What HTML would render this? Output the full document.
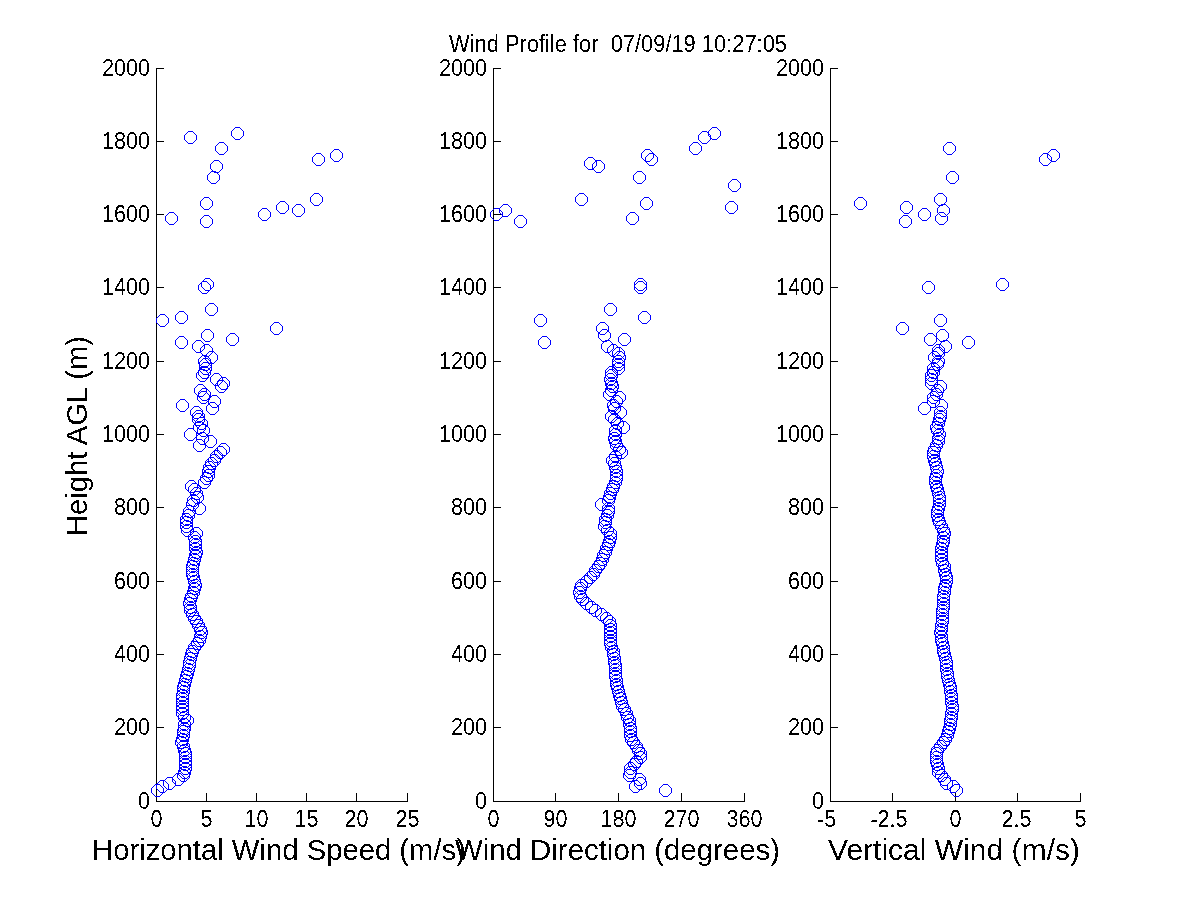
<!DOCTYPE html><html><head><meta charset="utf-8"><style>html,body{margin:0;padding:0;background:#fff;width:1200px;height:900px;overflow:hidden}svg{display:block}text{font-family:"Liberation Sans",Arial,sans-serif;fill:#000}</style></head><body>
<svg width="1200" height="900" viewBox="0 0 1200 900">
<defs><filter id="cr" x="0" y="0" width="1200" height="900" filterUnits="userSpaceOnUse" color-interpolation-filters="sRGB"><feComponentTransfer><feFuncA type="discrete" tableValues="0 1"/></feComponentTransfer></filter><path id="m" d="M-2,-6h5v1h-5zM-2,6h5v1h-5zM-3,-5h1v1h-1zM3,-5h1v1h-1zM-4,-4h1v1h-1zM4,-4h1v1h-1zM-5,-3h1v1h-1zM5,-3h1v1h-1zM-6,-2h1v5h-1zM6,-2h1v5h-1zM-5,3h1v1h-1zM5,3h1v1h-1zM-4,4h1v1h-1zM4,4h1v1h-1zM-3,5h1v1h-1zM3,5h1v1h-1z"/></defs>
<path shape-rendering="crispEdges" fill="#000" d="M156,801h252v1h-252zM156,68h1v733h-1zM156,793h1v8h-1zM206,793h1v8h-1zM256,793h1v8h-1zM306,793h1v8h-1zM356,793h1v8h-1zM407,793h1v8h-1zM156,801h8v1h-8zM156,727h8v1h-8zM156,654h8v1h-8zM156,581h8v1h-8zM156,507h8v1h-8zM156,434h8v1h-8zM156,361h8v1h-8zM156,287h8v1h-8zM156,214h8v1h-8zM156,141h8v1h-8zM156,68h8v1h-8zM493,801h252v1h-252zM493,68h1v733h-1zM493,793h1v8h-1zM555,793h1v8h-1zM618,793h1v8h-1zM681,793h1v8h-1zM744,793h1v8h-1zM493,801h8v1h-8zM493,727h8v1h-8zM493,654h8v1h-8zM493,581h8v1h-8zM493,507h8v1h-8zM493,434h8v1h-8zM493,361h8v1h-8zM493,287h8v1h-8zM493,214h8v1h-8zM493,141h8v1h-8zM493,68h8v1h-8zM830,801h251v1h-251zM830,68h1v733h-1zM830,793h1v8h-1zM892,793h1v8h-1zM955,793h1v8h-1zM1017,793h1v8h-1zM1080,793h1v8h-1zM830,801h8v1h-8zM830,727h8v1h-8zM830,654h8v1h-8zM830,581h8v1h-8zM830,507h8v1h-8zM830,434h8v1h-8zM830,361h8v1h-8zM830,287h8v1h-8zM830,214h8v1h-8zM830,141h8v1h-8zM830,68h8v1h-8z"/>
<g fill="#00f" shape-rendering="crispEdges"><use href="#m" x="237" y="133"/><use href="#m" x="190" y="137"/><use href="#m" x="221" y="148"/><use href="#m" x="336" y="155"/><use href="#m" x="318" y="159"/><use href="#m" x="216" y="166"/><use href="#m" x="213" y="177"/><use href="#m" x="316" y="199"/><use href="#m" x="206" y="203"/><use href="#m" x="282" y="207"/><use href="#m" x="298" y="210"/><use href="#m" x="264" y="214"/><use href="#m" x="171" y="218"/><use href="#m" x="206" y="221"/><use href="#m" x="207" y="284"/><use href="#m" x="204" y="287"/><use href="#m" x="211" y="309"/><use href="#m" x="181" y="317"/><use href="#m" x="162" y="320"/><use href="#m" x="276" y="328"/><use href="#m" x="207" y="335"/><use href="#m" x="232" y="339"/><use href="#m" x="181" y="342"/><use href="#m" x="198" y="346"/><use href="#m" x="206" y="350"/><use href="#m" x="211" y="357"/><use href="#m" x="204" y="361"/><use href="#m" x="205" y="364"/><use href="#m" x="205" y="368"/><use href="#m" x="204" y="372"/><use href="#m" x="202" y="375"/><use href="#m" x="216" y="379"/><use href="#m" x="223" y="383"/><use href="#m" x="221" y="386"/><use href="#m" x="200" y="390"/><use href="#m" x="204" y="394"/><use href="#m" x="203" y="397"/><use href="#m" x="214" y="401"/><use href="#m" x="182" y="405"/><use href="#m" x="212" y="408"/><use href="#m" x="196" y="412"/><use href="#m" x="198" y="416"/><use href="#m" x="198" y="419"/><use href="#m" x="201" y="423"/><use href="#m" x="199" y="427"/><use href="#m" x="203" y="430"/><use href="#m" x="190" y="434"/><use href="#m" x="202" y="438"/><use href="#m" x="210" y="441"/><use href="#m" x="199" y="445"/><use href="#m" x="223" y="449"/><use href="#m" x="220" y="452"/><use href="#m" x="216" y="456"/><use href="#m" x="214" y="460"/><use href="#m" x="211" y="463"/><use href="#m" x="209" y="467"/><use href="#m" x="208" y="471"/><use href="#m" x="208" y="475"/><use href="#m" x="206" y="478"/><use href="#m" x="204" y="482"/><use href="#m" x="191" y="486"/><use href="#m" x="194" y="489"/><use href="#m" x="196" y="493"/><use href="#m" x="197" y="497"/><use href="#m" x="193" y="500"/><use href="#m" x="192" y="504"/><use href="#m" x="199" y="508"/><use href="#m" x="189" y="511"/><use href="#m" x="188" y="515"/><use href="#m" x="186" y="519"/><use href="#m" x="186" y="522"/><use href="#m" x="186" y="526"/><use href="#m" x="187" y="530"/><use href="#m" x="196" y="533"/><use href="#m" x="184" y="772"/><use href="#m" x="185" y="768"/><use href="#m" x="185" y="764"/><use href="#m" x="185" y="761"/><use href="#m" x="185" y="757"/><use href="#m" x="185" y="753"/><use href="#m" x="184" y="750"/><use href="#m" x="183" y="746"/><use href="#m" x="181" y="742"/><use href="#m" x="182" y="739"/><use href="#m" x="183" y="735"/><use href="#m" x="183" y="731"/><use href="#m" x="184" y="728"/><use href="#m" x="184" y="724"/><use href="#m" x="187" y="720"/><use href="#m" x="184" y="717"/><use href="#m" x="182" y="713"/><use href="#m" x="182" y="709"/><use href="#m" x="182" y="706"/><use href="#m" x="182" y="702"/><use href="#m" x="182" y="698"/><use href="#m" x="182" y="695"/><use href="#m" x="183" y="691"/><use href="#m" x="183" y="687"/><use href="#m" x="184" y="684"/><use href="#m" x="185" y="680"/><use href="#m" x="186" y="676"/><use href="#m" x="187" y="673"/><use href="#m" x="188" y="669"/><use href="#m" x="189" y="665"/><use href="#m" x="189" y="662"/><use href="#m" x="190" y="658"/><use href="#m" x="191" y="654"/><use href="#m" x="192" y="651"/><use href="#m" x="194" y="647"/><use href="#m" x="197" y="643"/><use href="#m" x="199" y="640"/><use href="#m" x="200" y="636"/><use href="#m" x="201" y="632"/><use href="#m" x="200" y="629"/><use href="#m" x="198" y="625"/><use href="#m" x="196" y="621"/><use href="#m" x="194" y="618"/><use href="#m" x="192" y="614"/><use href="#m" x="190" y="610"/><use href="#m" x="190" y="607"/><use href="#m" x="189" y="603"/><use href="#m" x="190" y="599"/><use href="#m" x="191" y="596"/><use href="#m" x="193" y="592"/><use href="#m" x="194" y="588"/><use href="#m" x="195" y="585"/><use href="#m" x="194" y="581"/><use href="#m" x="193" y="577"/><use href="#m" x="192" y="574"/><use href="#m" x="192" y="570"/><use href="#m" x="192" y="566"/><use href="#m" x="193" y="563"/><use href="#m" x="194" y="559"/><use href="#m" x="195" y="555"/><use href="#m" x="196" y="552"/><use href="#m" x="195" y="548"/><use href="#m" x="195" y="544"/><use href="#m" x="195" y="541"/><use href="#m" x="194" y="537"/><use href="#m" x="157" y="790"/><use href="#m" x="162" y="786"/><use href="#m" x="169" y="783"/><use href="#m" x="178" y="779"/><use href="#m" x="183" y="775"/><use href="#m" x="714" y="133"/><use href="#m" x="704" y="137"/><use href="#m" x="695" y="148"/><use href="#m" x="647" y="155"/><use href="#m" x="651" y="159"/><use href="#m" x="590" y="163"/><use href="#m" x="598" y="166"/><use href="#m" x="639" y="177"/><use href="#m" x="734" y="185"/><use href="#m" x="581" y="199"/><use href="#m" x="646" y="203"/><use href="#m" x="731" y="207"/><use href="#m" x="505" y="210"/><use href="#m" x="496" y="214"/><use href="#m" x="632" y="218"/><use href="#m" x="520" y="221"/><use href="#m" x="640" y="284"/><use href="#m" x="640" y="287"/><use href="#m" x="610" y="309"/><use href="#m" x="644" y="317"/><use href="#m" x="540" y="320"/><use href="#m" x="602" y="328"/><use href="#m" x="604" y="335"/><use href="#m" x="624" y="339"/><use href="#m" x="544" y="342"/><use href="#m" x="607" y="346"/><use href="#m" x="613" y="350"/><use href="#m" x="618" y="353"/><use href="#m" x="619" y="357"/><use href="#m" x="618" y="361"/><use href="#m" x="618" y="364"/><use href="#m" x="618" y="368"/><use href="#m" x="611" y="372"/><use href="#m" x="611" y="375"/><use href="#m" x="610" y="379"/><use href="#m" x="611" y="383"/><use href="#m" x="612" y="386"/><use href="#m" x="611" y="390"/><use href="#m" x="609" y="394"/><use href="#m" x="619" y="397"/><use href="#m" x="616" y="401"/><use href="#m" x="613" y="405"/><use href="#m" x="614" y="408"/><use href="#m" x="620" y="412"/><use href="#m" x="611" y="416"/><use href="#m" x="614" y="419"/><use href="#m" x="617" y="423"/><use href="#m" x="623" y="427"/><use href="#m" x="615" y="430"/><use href="#m" x="615" y="434"/><use href="#m" x="614" y="438"/><use href="#m" x="615" y="441"/><use href="#m" x="616" y="445"/><use href="#m" x="619" y="449"/><use href="#m" x="621" y="452"/><use href="#m" x="615" y="456"/><use href="#m" x="612" y="460"/><use href="#m" x="614" y="463"/><use href="#m" x="615" y="467"/><use href="#m" x="629" y="724"/><use href="#m" x="629" y="720"/><use href="#m" x="627" y="717"/><use href="#m" x="626" y="713"/><use href="#m" x="624" y="709"/><use href="#m" x="622" y="706"/><use href="#m" x="621" y="702"/><use href="#m" x="620" y="698"/><use href="#m" x="619" y="695"/><use href="#m" x="618" y="691"/><use href="#m" x="617" y="687"/><use href="#m" x="616" y="684"/><use href="#m" x="616" y="680"/><use href="#m" x="615" y="676"/><use href="#m" x="615" y="673"/><use href="#m" x="615" y="669"/><use href="#m" x="615" y="665"/><use href="#m" x="614" y="662"/><use href="#m" x="614" y="658"/><use href="#m" x="613" y="654"/><use href="#m" x="613" y="651"/><use href="#m" x="611" y="647"/><use href="#m" x="610" y="643"/><use href="#m" x="610" y="640"/><use href="#m" x="610" y="636"/><use href="#m" x="610" y="632"/><use href="#m" x="610" y="629"/><use href="#m" x="610" y="625"/><use href="#m" x="609" y="621"/><use href="#m" x="606" y="618"/><use href="#m" x="601" y="614"/><use href="#m" x="595" y="610"/><use href="#m" x="591" y="607"/><use href="#m" x="586" y="603"/><use href="#m" x="582" y="599"/><use href="#m" x="580" y="596"/><use href="#m" x="579" y="592"/><use href="#m" x="580" y="588"/><use href="#m" x="581" y="585"/><use href="#m" x="586" y="581"/><use href="#m" x="590" y="577"/><use href="#m" x="593" y="574"/><use href="#m" x="595" y="570"/><use href="#m" x="598" y="566"/><use href="#m" x="600" y="563"/><use href="#m" x="602" y="559"/><use href="#m" x="603" y="555"/><use href="#m" x="605" y="552"/><use href="#m" x="606" y="548"/><use href="#m" x="608" y="544"/><use href="#m" x="609" y="541"/><use href="#m" x="610" y="537"/><use href="#m" x="610" y="533"/><use href="#m" x="607" y="530"/><use href="#m" x="604" y="526"/><use href="#m" x="605" y="522"/><use href="#m" x="605" y="519"/><use href="#m" x="607" y="515"/><use href="#m" x="608" y="511"/><use href="#m" x="608" y="508"/><use href="#m" x="601" y="504"/><use href="#m" x="608" y="500"/><use href="#m" x="609" y="497"/><use href="#m" x="610" y="493"/><use href="#m" x="612" y="489"/><use href="#m" x="613" y="486"/><use href="#m" x="615" y="482"/><use href="#m" x="616" y="478"/><use href="#m" x="616" y="475"/><use href="#m" x="616" y="471"/><use href="#m" x="665" y="790"/><use href="#m" x="635" y="786"/><use href="#m" x="640" y="783"/><use href="#m" x="639" y="779"/><use href="#m" x="629" y="775"/><use href="#m" x="630" y="772"/><use href="#m" x="630" y="768"/><use href="#m" x="634" y="764"/><use href="#m" x="636" y="761"/><use href="#m" x="640" y="757"/><use href="#m" x="640" y="753"/><use href="#m" x="638" y="750"/><use href="#m" x="636" y="746"/><use href="#m" x="633" y="742"/><use href="#m" x="631" y="739"/><use href="#m" x="630" y="735"/><use href="#m" x="630" y="731"/><use href="#m" x="630" y="728"/><use href="#m" x="949" y="148"/><use href="#m" x="1053" y="155"/><use href="#m" x="1045" y="159"/><use href="#m" x="952" y="177"/><use href="#m" x="940" y="199"/><use href="#m" x="860" y="203"/><use href="#m" x="906" y="207"/><use href="#m" x="943" y="210"/><use href="#m" x="924" y="214"/><use href="#m" x="941" y="218"/><use href="#m" x="905" y="221"/><use href="#m" x="1002" y="284"/><use href="#m" x="928" y="287"/><use href="#m" x="940" y="320"/><use href="#m" x="902" y="328"/><use href="#m" x="942" y="335"/><use href="#m" x="930" y="339"/><use href="#m" x="968" y="342"/><use href="#m" x="945" y="346"/><use href="#m" x="938" y="350"/><use href="#m" x="938" y="353"/><use href="#m" x="934" y="357"/><use href="#m" x="938" y="361"/><use href="#m" x="937" y="364"/><use href="#m" x="933" y="368"/><use href="#m" x="933" y="372"/><use href="#m" x="931" y="375"/><use href="#m" x="931" y="379"/><use href="#m" x="931" y="383"/><use href="#m" x="940" y="386"/><use href="#m" x="937" y="390"/><use href="#m" x="936" y="394"/><use href="#m" x="933" y="397"/><use href="#m" x="933" y="401"/><use href="#m" x="941" y="405"/><use href="#m" x="924" y="408"/><use href="#m" x="938" y="772"/><use href="#m" x="938" y="768"/><use href="#m" x="937" y="764"/><use href="#m" x="936" y="761"/><use href="#m" x="936" y="757"/><use href="#m" x="936" y="753"/><use href="#m" x="937" y="750"/><use href="#m" x="940" y="746"/><use href="#m" x="943" y="742"/><use href="#m" x="945" y="739"/><use href="#m" x="947" y="735"/><use href="#m" x="948" y="731"/><use href="#m" x="949" y="728"/><use href="#m" x="950" y="724"/><use href="#m" x="950" y="720"/><use href="#m" x="951" y="717"/><use href="#m" x="951" y="713"/><use href="#m" x="952" y="709"/><use href="#m" x="952" y="706"/><use href="#m" x="951" y="702"/><use href="#m" x="951" y="698"/><use href="#m" x="951" y="695"/><use href="#m" x="950" y="691"/><use href="#m" x="950" y="687"/><use href="#m" x="949" y="684"/><use href="#m" x="948" y="680"/><use href="#m" x="947" y="676"/><use href="#m" x="947" y="673"/><use href="#m" x="946" y="669"/><use href="#m" x="946" y="665"/><use href="#m" x="946" y="662"/><use href="#m" x="945" y="658"/><use href="#m" x="944" y="654"/><use href="#m" x="943" y="651"/><use href="#m" x="943" y="647"/><use href="#m" x="942" y="643"/><use href="#m" x="941" y="640"/><use href="#m" x="941" y="636"/><use href="#m" x="940" y="632"/><use href="#m" x="941" y="629"/><use href="#m" x="941" y="625"/><use href="#m" x="942" y="621"/><use href="#m" x="942" y="618"/><use href="#m" x="942" y="614"/><use href="#m" x="942" y="610"/><use href="#m" x="943" y="607"/><use href="#m" x="943" y="603"/><use href="#m" x="943" y="599"/><use href="#m" x="943" y="596"/><use href="#m" x="944" y="592"/><use href="#m" x="944" y="588"/><use href="#m" x="945" y="585"/><use href="#m" x="946" y="581"/><use href="#m" x="946" y="577"/><use href="#m" x="945" y="574"/><use href="#m" x="944" y="570"/><use href="#m" x="944" y="566"/><use href="#m" x="942" y="563"/><use href="#m" x="941" y="559"/><use href="#m" x="941" y="555"/><use href="#m" x="941" y="552"/><use href="#m" x="941" y="548"/><use href="#m" x="942" y="544"/><use href="#m" x="943" y="541"/><use href="#m" x="943" y="537"/><use href="#m" x="944" y="533"/><use href="#m" x="943" y="530"/><use href="#m" x="941" y="526"/><use href="#m" x="939" y="522"/><use href="#m" x="938" y="519"/><use href="#m" x="937" y="515"/><use href="#m" x="937" y="511"/><use href="#m" x="938" y="508"/><use href="#m" x="939" y="504"/><use href="#m" x="939" y="500"/><use href="#m" x="939" y="497"/><use href="#m" x="938" y="493"/><use href="#m" x="937" y="489"/><use href="#m" x="936" y="486"/><use href="#m" x="935" y="482"/><use href="#m" x="935" y="478"/><use href="#m" x="936" y="475"/><use href="#m" x="937" y="471"/><use href="#m" x="936" y="467"/><use href="#m" x="935" y="463"/><use href="#m" x="934" y="460"/><use href="#m" x="933" y="456"/><use href="#m" x="933" y="452"/><use href="#m" x="934" y="449"/><use href="#m" x="936" y="445"/><use href="#m" x="938" y="441"/><use href="#m" x="938" y="438"/><use href="#m" x="939" y="434"/><use href="#m" x="937" y="430"/><use href="#m" x="936" y="427"/><use href="#m" x="938" y="423"/><use href="#m" x="939" y="419"/><use href="#m" x="940" y="416"/><use href="#m" x="940" y="412"/><use href="#m" x="956" y="790"/><use href="#m" x="953" y="786"/><use href="#m" x="946" y="783"/><use href="#m" x="944" y="779"/><use href="#m" x="941" y="775"/></g>
<g filter="url(#cr)"><g font-size="23"><text transform="translate(150,809) scale(0.94,1)" text-anchor="end">0</text><text transform="translate(150,735) scale(0.94,1)" text-anchor="end">200</text><text transform="translate(150,662) scale(0.94,1)" text-anchor="end">400</text><text transform="translate(150,589) scale(0.94,1)" text-anchor="end">600</text><text transform="translate(150,515) scale(0.94,1)" text-anchor="end">800</text><text transform="translate(150,442) scale(0.94,1)" text-anchor="end">1000</text><text transform="translate(150,369) scale(0.94,1)" text-anchor="end">1200</text><text transform="translate(150,295) scale(0.94,1)" text-anchor="end">1400</text><text transform="translate(150,222) scale(0.94,1)" text-anchor="end">1600</text><text transform="translate(150,149) scale(0.94,1)" text-anchor="end">1800</text><text transform="translate(150,76) scale(0.94,1)" text-anchor="end">2000</text><text transform="translate(156.5,827) scale(0.94,1)" text-anchor="middle">0</text><text transform="translate(206.5,827) scale(0.94,1)" text-anchor="middle">5</text><text transform="translate(256.5,827) scale(0.94,1)" text-anchor="middle">10</text><text transform="translate(306.5,827) scale(0.94,1)" text-anchor="middle">15</text><text transform="translate(356.5,827) scale(0.94,1)" text-anchor="middle">20</text><text transform="translate(407.5,827) scale(0.94,1)" text-anchor="middle">25</text><text transform="translate(487,809) scale(0.94,1)" text-anchor="end">0</text><text transform="translate(487,735) scale(0.94,1)" text-anchor="end">200</text><text transform="translate(487,662) scale(0.94,1)" text-anchor="end">400</text><text transform="translate(487,589) scale(0.94,1)" text-anchor="end">600</text><text transform="translate(487,515) scale(0.94,1)" text-anchor="end">800</text><text transform="translate(487,442) scale(0.94,1)" text-anchor="end">1000</text><text transform="translate(487,369) scale(0.94,1)" text-anchor="end">1200</text><text transform="translate(487,295) scale(0.94,1)" text-anchor="end">1400</text><text transform="translate(487,222) scale(0.94,1)" text-anchor="end">1600</text><text transform="translate(487,149) scale(0.94,1)" text-anchor="end">1800</text><text transform="translate(487,76) scale(0.94,1)" text-anchor="end">2000</text><text transform="translate(493.5,827) scale(0.94,1)" text-anchor="middle">0</text><text transform="translate(555.5,827) scale(0.94,1)" text-anchor="middle">90</text><text transform="translate(618.5,827) scale(0.94,1)" text-anchor="middle">180</text><text transform="translate(681.5,827) scale(0.94,1)" text-anchor="middle">270</text><text transform="translate(744.5,827) scale(0.94,1)" text-anchor="middle">360</text><text transform="translate(824,809) scale(0.94,1)" text-anchor="end">0</text><text transform="translate(824,735) scale(0.94,1)" text-anchor="end">200</text><text transform="translate(824,662) scale(0.94,1)" text-anchor="end">400</text><text transform="translate(824,589) scale(0.94,1)" text-anchor="end">600</text><text transform="translate(824,515) scale(0.94,1)" text-anchor="end">800</text><text transform="translate(824,442) scale(0.94,1)" text-anchor="end">1000</text><text transform="translate(824,369) scale(0.94,1)" text-anchor="end">1200</text><text transform="translate(824,295) scale(0.94,1)" text-anchor="end">1400</text><text transform="translate(824,222) scale(0.94,1)" text-anchor="end">1600</text><text transform="translate(824,149) scale(0.94,1)" text-anchor="end">1800</text><text transform="translate(824,76) scale(0.94,1)" text-anchor="end">2000</text><text transform="translate(826.75,827) scale(0.94,1)" text-anchor="middle">-5</text><text transform="translate(889.0,827) scale(0.94,1)" text-anchor="middle">-2.5</text><text transform="translate(955.5,827) scale(0.94,1)" text-anchor="middle">0</text><text transform="translate(1016.5,827) scale(0.94,1)" text-anchor="middle">2.5</text><text transform="translate(1080.5,827) scale(0.94,1)" text-anchor="middle">5</text></g>
<text x="449" y="52" font-size="23" textLength="338" lengthAdjust="spacingAndGlyphs">Wind Profile for&#160; 07/09/19 10:27:05</text>
<g font-size="30.4">
<text x="92" y="860" textLength="374" lengthAdjust="spacingAndGlyphs">Horizontal Wind Speed (m/s)</text>
<text x="455" y="860" textLength="325" lengthAdjust="spacingAndGlyphs">Wind Direction (degrees)</text>
<text x="828" y="860" textLength="252" lengthAdjust="spacingAndGlyphs">Vertical Wind (m/s)</text>
<text transform="translate(87,536) rotate(-90)" textLength="200" lengthAdjust="spacingAndGlyphs">Height AGL (m)</text>
</g></g>
</svg></body></html>
